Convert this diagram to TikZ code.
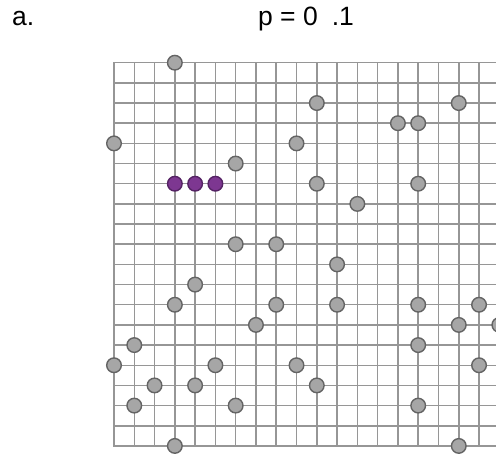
\documentclass[tikz,border=0pt]{standalone}
\usepackage{fontspec}
\setmainfont{Liberation Sans}
\definecolor{gridgray}{RGB}{150,150,150}
\definecolor{circfill}{RGB}{166,166,166}
\definecolor{circedge}{RGB}{100,100,100}
\definecolor{purpfill}{RGB}{125,55,145}
\definecolor{purpedge}{RGB}{85,35,100}
\begin{document}
\begin{tikzpicture}[x=1pt,y=-1pt,
  gridline/.style={draw=gridgray, line width=1.5pt},
  site/.style={circle, draw=circedge, fill=circfill, line width=1.4pt, minimum size=14.6pt, inner sep=0pt},
  hit/.style={site, draw=purpedge, fill=purpfill},
  lbl/.style={font=\fontsize{26.5}{30}\selectfont, anchor=base, inner sep=0pt}]
\useasboundingbox (0,0) rectangle (496,456);
\clip (0,0) rectangle (496,456);
\node[lbl, anchor=base west] (panel) at (12,25.7) {a.};
\node[lbl] (title) at (306,25.7) {p = 0\hspace{0.25em} .1};
\foreach \i in {0,...,19}
  \draw[gridline] ({114+20.28*\i},62.7) -- ({114+20.28*\i},446);
\foreach \j in {0,...,19}
  \draw[gridline] (113.3,{62.7+20.17*\j}) -- (510,{62.7+20.17*\j});
\foreach \c/\r [count=\k] in {3/0,10/2,17/2,14/3,15/3,0/4,9/4,6/5,10/6,15/6,12/7,6/9,8/9,11/10,4/11,3/12,8/12,11/12,15/12,18/12,7/13,17/13,19/13,1/14,15/14,0/15,5/15,9/15,18/15,2/16,4/16,10/16,1/17,6/17,15/17,3/19,17/19}
  \node[site] (s\k) at ({114+20.28*\c},{62.7+20.17*\r}) {};
\foreach \c/\r [count=\k] in {3/6,4/6,5/6}
  \node[hit] (h\k) at ({114+20.28*\c},{62.7+20.17*\r}) {};
\end{tikzpicture}
\end{document}
